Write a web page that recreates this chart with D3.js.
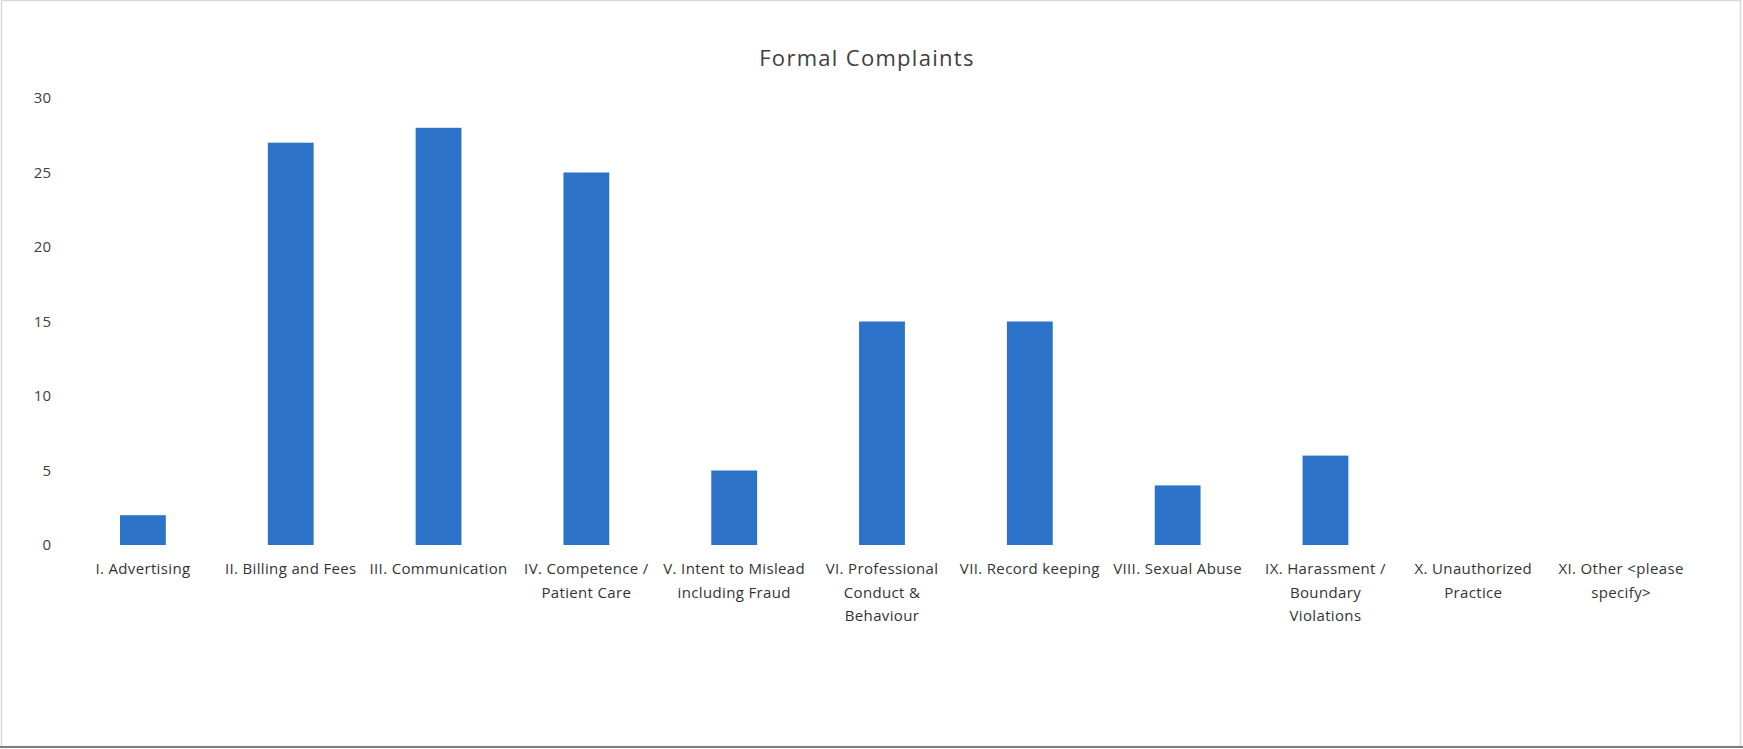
<!DOCTYPE html>
<html>
<head>
<meta charset="utf-8">
<script src="https://cdn.jsdelivr.net/npm/d3@7"></script>
<style>
  html, body { margin: 0; padding: 0; background: #fff; }
  svg { display: block; }
  text { font-family: "Open Sans", Lato, sans-serif; }
</style>
</head>
<body>
<svg id="chart" width="1743" height="749"></svg>
<script>
// ---- data ----
const title = "Formal Complaints";
const categories = [
  "I. Advertising",
  "II. Billing and Fees",
  "III. Communication",
  "IV. Competence /\nPatient Care",
  "V. Intent to Mislead\nincluding Fraud",
  "VI. Professional\nConduct &\nBehaviour",
  "VII. Record keeping",
  "VIII. Sexual Abuse",
  "IX. Harassment /\nBoundary\nViolations",
  "X. Unauthorized\nPractice",
  "XI. Other <please\nspecify>"
];
const values = [2, 27, 28, 25, 5, 15, 15, 4, 6, 0, 0];
const yTicks = [0, 5, 10, 15, 20, 25, 30];

// ---- layout ----
const W = 1743, H = 749;
const margin = { top: 98, right: 48, bottom: 204, left: 69 };
const FONT = "'Open Sans', Lato, sans-serif";
const svg = d3.select("#chart");

// border
svg.append("rect").attr("x", 1.5).attr("y", 0.5).attr("width", W - 4).attr("height", H - 3)
  .attr("fill", "none").attr("stroke", "#d9d9d9").attr("stroke-width", 1.5);
svg.append("line").attr("x1", 0).attr("x2", W).attr("y1", H - 2).attr("y2", H - 2)
  .attr("stroke", "#7f7f7f").attr("stroke-width", 2);

const x = d3.scaleBand().domain(categories).range([margin.left, W - margin.right])
  .paddingInner(0.69).paddingOuter(0.345);
const y = d3.scaleLinear().domain([0, 30]).range([H - margin.bottom, margin.top]);

// title
svg.append("text").attr("x", 867).attr("y", 66).attr("text-anchor", "middle")
  .attr("font-size", 22).attr("letter-spacing", 1.3).attr("fill", "#404040")
  .style("font-family", FONT).text(title);

// y axis
const yAxis = d3.axisLeft(y).tickValues(yTicks).tickSize(0).tickPadding(0);
const gy = svg.append("g").attr("transform", `translate(${margin.left - 18},0)`).call(yAxis);
gy.select(".domain").remove();
gy.selectAll("text").attr("font-size", 15).attr("fill", "#404040")
  .style("font-family", FONT);

// bars
svg.append("g").selectAll("rect").data(values).join("rect")
  .attr("x", (d, i) => x(categories[i]))
  .attr("y", d => y(d))
  .attr("width", x.bandwidth())
  .attr("height", d => y(0) - y(d))
  .attr("fill", "#2b72c8");

// x axis labels
const xAxis = d3.axisBottom(x).tickSize(0).tickPadding(0).tickFormat(() => "");
const gx = svg.append("g").attr("transform", `translate(0,${y(0)})`).call(xAxis);
gx.select(".domain").remove();
gx.selectAll(".tick").each(function(d) {
  const t = d3.select(this).select("text");
  t.text(null).attr("y", 0).attr("dy", null)
    .attr("font-size", 15).attr("letter-spacing", 0.35).attr("fill", "#333")
    .style("font-family", FONT);
  d.split("\n").forEach((line, k) => {
    t.append("tspan").attr("x", 0).attr("y", 29 + k * 23.5).text(line);
  });
});
</script>
</body>
</html>
